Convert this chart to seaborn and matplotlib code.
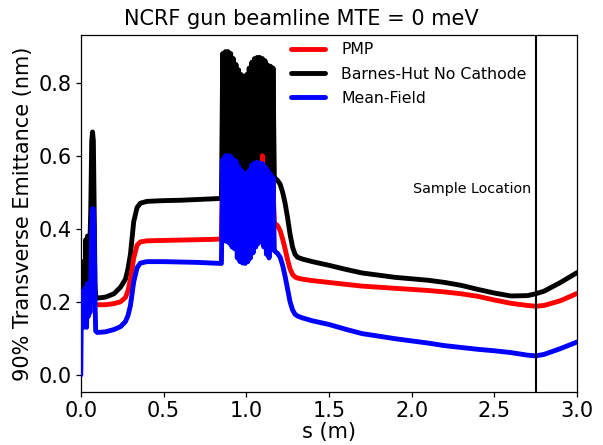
import matplotlib
matplotlib.use("Agg")
import matplotlib.pyplot as plt
import seaborn as sns
import numpy as np

sns.set_theme(style="ticks", rc={"axes.edgecolor": "black", "xtick.color": "black",
                                 "ytick.color": "black", "text.color": "black",
                                 "axes.labelcolor": "black", "axes.linewidth": 0.9,
                                 "xtick.major.width": 0.9, "ytick.major.width": 0.9,
                                 "xtick.major.size": 3.5, "ytick.major.size": 3.5})
plt.rcParams["font.family"] = ["DejaVu Sans"]

# position along the beamline (m): cathode spikes, drift, cavity oscillation, tail
s_m = [0.000, 0.004, 0.008, 0.012, 0.016, 0.020, 0.025, 0.030, 0.035, 0.040,
       0.045, 0.050, 0.055, 0.060, 0.066, 0.071, 0.076, 0.081, 0.086, 0.090,
       0.100, 0.150, 0.200, 0.240, 0.270, 0.285, 0.300, 0.320, 0.340, 0.360,
       0.40, 0.50, 0.60, 0.70, 0.80,
       0.850, 0.858, 0.866, 0.874, 0.882, 0.890, 0.898, 0.906, 0.914, 0.922,
       0.930, 0.938, 0.946, 0.954, 0.962, 0.970, 0.978, 0.986, 0.994, 1.002,
       1.010, 1.018, 1.026, 1.034, 1.042, 1.050, 1.058, 1.066, 1.074, 1.082,
       1.090, 1.098, 1.106, 1.114, 1.122, 1.130, 1.138, 1.146, 1.154, 1.162,
       1.170,
       1.175, 1.190, 1.205, 1.220, 1.235, 1.250, 1.265, 1.280, 1.295, 1.310,
       1.340, 1.400, 1.500, 1.600, 1.700, 1.800, 1.900, 2.000, 2.100, 2.200,
       2.300, 2.400, 2.500, 2.600, 2.700, 2.750, 2.800, 2.900, 3.000]

pmp = [0.21, 0.20, 0.21, 0.20, 0.21, 0.20, 0.21, 0.20, 0.21, 0.20,
       0.21, 0.20, 0.20, 0.20, 0.20, 0.20, 0.20, 0.20, 0.195, 0.193,
       0.192, 0.192, 0.195, 0.200, 0.212, 0.230, 0.262, 0.320, 0.355, 0.364,
       0.367, 0.368, 0.369, 0.370, 0.371,
       0.372, 0.55, 0.38, 0.56, 0.37, 0.56, 0.38, 0.55, 0.37, 0.55,
       0.38, 0.54, 0.37, 0.53, 0.36, 0.53, 0.36, 0.52, 0.36, 0.53,
       0.37, 0.54, 0.37, 0.55, 0.38, 0.56, 0.38, 0.57, 0.38, 0.58,
       0.39, 0.60, 0.39, 0.56, 0.38, 0.55, 0.39, 0.53, 0.40, 0.52,
       0.415,
       0.414, 0.408, 0.395, 0.372, 0.345, 0.315, 0.290, 0.275, 0.268, 0.265,
       0.262, 0.258, 0.253, 0.248, 0.243, 0.240, 0.237, 0.234, 0.231, 0.227,
       0.222, 0.215, 0.205, 0.196, 0.190, 0.188, 0.190, 0.203, 0.223]

barnes_hut = [0.20, 0.31, 0.22, 0.30, 0.22, 0.31, 0.23, 0.37, 0.24, 0.38,
              0.25, 0.38, 0.36, 0.45, 0.64, 0.665, 0.64, 0.45, 0.25, 0.215,
              0.210, 0.213, 0.222, 0.240, 0.262, 0.290, 0.330, 0.420, 0.458, 0.470,
              0.475, 0.477, 0.478, 0.480, 0.482,
              0.483, 0.88, 0.46, 0.885, 0.45, 0.885, 0.46, 0.88, 0.45, 0.866,
              0.46, 0.85, 0.45, 0.835, 0.46, 0.822, 0.45, 0.814, 0.46, 0.822,
              0.45, 0.84, 0.46, 0.856, 0.45, 0.866, 0.46, 0.869, 0.45, 0.869,
              0.46, 0.866, 0.45, 0.86, 0.46, 0.848, 0.45, 0.845, 0.46, 0.84,
              0.54,
              0.538, 0.532, 0.522, 0.500, 0.470, 0.430, 0.385, 0.350, 0.330, 0.322,
              0.317, 0.310, 0.300, 0.289, 0.279, 0.273, 0.267, 0.263, 0.259, 0.253,
              0.245, 0.234, 0.224, 0.216, 0.217, 0.222, 0.229, 0.253, 0.280]

mean_field = [0.00, 0.22, 0.13, 0.23, 0.13, 0.21, 0.14, 0.24, 0.13, 0.25,
              0.16, 0.24, 0.17, 0.26, 0.40, 0.455, 0.455, 0.40, 0.20, 0.12,
              0.116, 0.118, 0.124, 0.132, 0.146, 0.162, 0.190, 0.255, 0.293, 0.306,
              0.310, 0.310, 0.309, 0.308, 0.306,
              0.305, 0.59, 0.367, 0.60, 0.365, 0.60, 0.36, 0.598, 0.35, 0.59,
              0.345, 0.585, 0.32, 0.57, 0.31, 0.56, 0.306, 0.552, 0.305, 0.553,
              0.31, 0.56, 0.32, 0.575, 0.334, 0.58, 0.35, 0.582, 0.36, 0.58,
              0.367, 0.578, 0.35, 0.57, 0.33, 0.56, 0.32, 0.55, 0.345, 0.54,
              0.34,
              0.338, 0.332, 0.322, 0.300, 0.270, 0.235, 0.200, 0.178, 0.166, 0.161,
              0.156, 0.148, 0.138, 0.125, 0.113, 0.106, 0.099, 0.093, 0.087, 0.080,
              0.075, 0.070, 0.066, 0.061, 0.054, 0.052, 0.056, 0.072, 0.090]

SAMPLE_S = 2.75

fig, ax = plt.subplots(figsize=(6.03, 4.45), dpi=100)
fig.subplots_adjust(left=0.134, right=0.957, top=0.921, bottom=0.119)

lw = 3.5
sns.lineplot(x=s_m, y=pmp, color="red", lw=lw, label="PMP", zorder=3,
             sort=False, estimator=None, ax=ax)
sns.lineplot(x=s_m, y=barnes_hut, color="black", lw=lw, label="Barnes-Hut No Cathode",
             zorder=2, sort=False, estimator=None, ax=ax)
sns.lineplot(x=s_m, y=mean_field, color="blue", lw=lw, label="Mean-Field", zorder=4,
             sort=False, estimator=None, ax=ax)

ax.axvline(SAMPLE_S, color="black", lw=1.5, zorder=5)
ax.text(SAMPLE_S - 0.025, 0.51, "Sample Location", ha="right", va="center", fontsize=10.3)

ax.set_xlim(0, 3.0)
ax.set_ylim(-0.047, 0.93)
ax.set_xticks(np.arange(0, 3.01, 0.5))
ax.set_yticks(np.arange(0, 0.81, 0.2))
ax.tick_params(labelsize=15, pad=3)
ax.set_xlabel("s (m)", fontsize=15, labelpad=1)
ax.set_ylabel("90% Transverse Emittance (nm)", fontsize=15)
fig.suptitle("NCRF gun beamline MTE = 0 meV", fontsize=15, x=0.5, y=0.98)

ax.legend(loc="upper left", bbox_to_anchor=(0.395, 1.02), frameon=False, fontsize=11.3,
          handlelength=2.2, handletextpad=1.0, labelspacing=0.6)

fig.savefig("out.png", dpi=100)
